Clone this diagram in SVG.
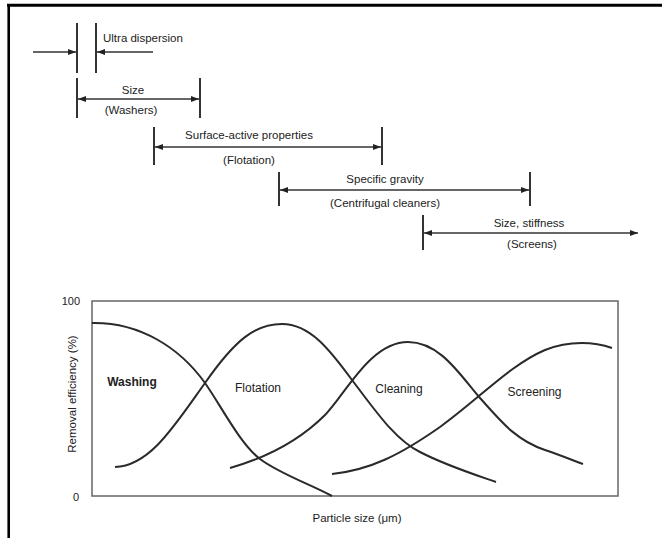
<svg xmlns="http://www.w3.org/2000/svg" width="662" height="538" viewBox="0 0 662 538">
<style>
text{font-family:"Liberation Sans",Arial,sans-serif;fill:#222;}
.lbl{font-size:11.5px;text-anchor:middle;}
.bar{stroke:#333;stroke-width:2;}
.arr{stroke:#333;stroke-width:1.5;fill:none;}
.curve{stroke:#2a2a2a;stroke-width:2;fill:none;}
.cl{font-size:12px;text-anchor:middle;}
</style>
<defs>
<marker id="ah" viewBox="0 0 8 6" refX="8" refY="3" markerWidth="8" markerHeight="6" markerUnits="userSpaceOnUse" orient="auto-start-reverse">
<path d="M0,0 L8,3 L0,6 z" fill="#222"/>
</marker>
</defs>
<rect x="0" y="0" width="662" height="538" fill="#fff"/>
<g id="frame">
<line x1="7" y1="5.3" x2="662" y2="5.3" stroke="#000" stroke-width="3"/>
<line x1="8.7" y1="4" x2="8.7" y2="538" stroke="#000" stroke-width="2.6"/>
</g>
<g id="bars">
<line class="bar" x1="77" y1="23" x2="77" y2="73"/>
<line class="bar" x1="96" y1="23" x2="96" y2="73"/>
<line class="bar" x1="77" y1="78" x2="77" y2="118"/>
<line class="bar" x1="200" y1="78" x2="200" y2="118"/>
<line class="bar" x1="154" y1="127" x2="154" y2="165"/>
<line class="bar" x1="382" y1="127" x2="382" y2="165"/>
<line class="bar" x1="279" y1="172" x2="279" y2="206"/>
<line class="bar" x1="530" y1="172" x2="530" y2="206"/>
<line class="bar" x1="423" y1="215" x2="423" y2="250"/>
</g>
<g id="connectors">
<line class="arr" x1="33" y1="52" x2="76" y2="52" marker-end="url(#ah)"/>
<line class="arr" x1="153" y1="52" x2="97" y2="52" marker-end="url(#ah)"/>
<line class="arr" x1="78" y1="99" x2="199" y2="99" marker-start="url(#ah)" marker-end="url(#ah)"/>
<line class="arr" x1="155" y1="147" x2="381" y2="147" marker-start="url(#ah)" marker-end="url(#ah)"/>
<line class="arr" x1="280" y1="190" x2="529" y2="190" marker-start="url(#ah)" marker-end="url(#ah)"/>
<line class="arr" x1="424" y1="233" x2="638" y2="233" marker-start="url(#ah)" marker-end="url(#ah)"/>
</g>
<g id="ultra-dispersion"><text x="103" y="42" font-size="11.5px">Ultra dispersion</text></g>
<g id="size-washers">
<text class="lbl" x="133" y="94">Size</text>
<text class="lbl" x="131" y="114">(Washers)</text>
</g>
<g id="surface-flotation">
<text class="lbl" x="249" y="139">Surface-active properties</text>
<text class="lbl" x="249" y="164">(Flotation)</text>
</g>
<g id="gravity-cleaners">
<text class="lbl" x="385" y="183">Specific gravity</text>
<text class="lbl" x="385" y="207">(Centrifugal cleaners)</text>
</g>
<g id="stiffness-screens">
<text class="lbl" x="529" y="227">Size, stiffness</text>
<text class="lbl" x="532" y="248">(Screens)</text>
</g>
<g id="chart">
<rect x="92" y="301" width="526" height="195" fill="none" stroke="#666" stroke-width="1.5"/>
<text x="80" y="305" font-size="11px" text-anchor="end">100</text>
<text x="79" y="501" font-size="11px" text-anchor="end">0</text>
<text font-size="11.5px" text-anchor="middle" transform="translate(76,394) rotate(-90)">Removal efficiency (%)</text>
<text x="357" y="522" font-size="11.5px" text-anchor="middle">Particle size (μm)</text>
</g>
<g id="washing">
<path class="curve" d="M92,323 C140,322 180,348 205,383 C220,404 240,444 260,459 C280,474 310,484 332,496"/>
<text class="cl" x="132" y="386" font-weight="bold">Washing</text>
</g>
<g id="flotation">
<path class="curve" d="M115,467 C150,466 175,425 205,383 C235,340 255,324 282,324 C310,324 330,350 352,380 C375,410 395,440 420,452 C445,465 470,473 496,482"/>
<text class="cl" x="258" y="392">Flotation</text>
</g>
<g id="cleaning">
<path class="curve" d="M230,468 C265,458 300,440 325,415 C345,395 370,342 408,342 C440,342 460,375 480,398 C500,420 515,440 545,450 C560,455 572,460 583,464"/>
<text class="cl" x="399" y="393">Cleaning</text>
</g>
<g id="screening">
<path class="curve" d="M332,474 C370,470 400,455 440,427 C480,398 510,365 545,350 C570,340 595,342 612,348"/>
<text class="cl" x="534.5" y="396">Screening</text>
</g>
</svg>
